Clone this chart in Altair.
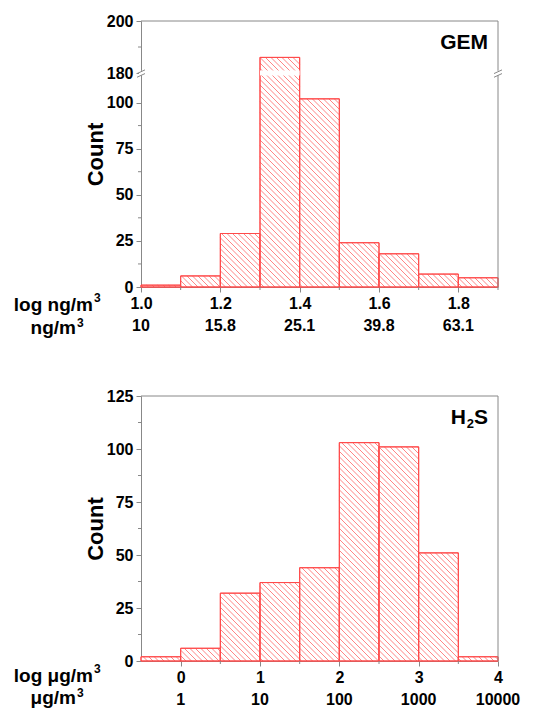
import math
import altair as alt
import pandas as pd

# ---------------- data ----------------
gem_lo = [1.0, 1.1, 1.2, 1.3, 1.4, 1.5, 1.6, 1.7, 1.8]
gem_hi = [1.1, 1.2, 1.3, 1.4, 1.5, 1.6, 1.7, 1.8, 1.9]
gem_counts = [1, 6, 29, 186, 102, 24, 18, 7, 5]
gem_ticks = [1.0, 1.2, 1.4, 1.6, 1.8]
gem_conc = ["10", "15.8", "25.1", "39.8", "63.1"]

h2s_lo = [-0.5, 0.0, 0.5, 1.0, 1.5, 2.0, 2.5, 3.0, 3.5]
h2s_hi = [0.0, 0.5, 1.0, 1.5, 2.0, 2.5, 3.0, 3.5, 4.0]
h2s_counts = [2, 6, 32, 37, 44, 103, 101, 51, 2]
h2s_ticks = [0, 1, 2, 3, 4]
h2s_conc = ["1", "10", "100", "1000", "10000"]

gem_yticks = [0, 25, 50, 75, 100, 180, 200]
gem_yminor = [12.5, 37.5, 62.5, 87.5, 190]
h2s_yticks = [0, 25, 50, 75, 100, 125]
h2s_yminor = [12.5, 37.5, 62.5, 87.5, 112.5]
gem_xminor = [1.1, 1.3, 1.5, 1.7, 1.9]
h2s_xminor = [0.5, 1.5, 2.5, 3.5]

# ---------------- style ----------------
RED = "#ff4a4a"
GREY = "#888888"
FONT = "Liberation Sans"
W = 357
H1 = 266
H2 = 265
STEP = 5.5

# broken axis for GEM: values <=116 linear, 180..200 compressed above
BREAK_D = 116.0
UPPER_RATIO = 1.41


def to_disp(v):
    if v <= BREAK_D:
        return v
    return BREAK_D + (v - 180) * UPPER_RATIO


GEM_DMAX = to_disp(200)


def hatch(los, his, tops, xdom, ydom, width, height, step=STEP):
    rows = []
    for a, b, t in zip(los, his, tops):
        px0 = (a - xdom[0]) / (xdom[1] - xdom[0]) * width
        px1 = (b - xdom[0]) / (xdom[1] - xdom[0]) * width
        pt = height - (t - ydom[0]) / (ydom[1] - ydom[0]) * height
        pb = height
        cmin = pt - px1
        cmax = pb - px0
        c = math.ceil(cmin / step) * step
        while c <= cmax:
            xa = max(px0, pt - c)
            xb = min(px1, pb - c)
            if xb - xa > 0.4:
                rows.append({
                    "x0": xdom[0] + xa / width * (xdom[1] - xdom[0]),
                    "x1": xdom[0] + xb / width * (xdom[1] - xdom[0]),
                    "y0": ydom[0] + (height - (xa + c)) / height * (ydom[1] - ydom[0]),
                    "y1": ydom[0] + (height - (xb + c)) / height * (ydom[1] - ydom[0]),
                })
            c += step
    return pd.DataFrame(rows)


def txt(one, text, x, y, size, align="center", baseline="middle"):
    return alt.Chart(one).mark_text(
        text=text, font=FONT, fontWeight="bold", fontSize=size, align=align,
        baseline=baseline, color="black").encode(x=alt.value(x), y=alt.value(y))


def panel(los, his, disp_counts, xdom, ydom, width, height, xticks, xfmt,
          yticks_disp, ylabel_expr, yminor_disp, xminor, conc, name_parts,
          unit_log, unit_lin, ylog, ylin, broken=False, bar_gap=None):
    xs = alt.Scale(domain=xdom, nice=False, zero=False)
    ys = alt.Scale(domain=ydom, nice=False, zero=False)
    bars_df = pd.DataFrame({"x0": los, "x1": his, "y0": [0] * len(los), "y1": disp_counts})
    layers = []
    layers.append(
        alt.Chart(bars_df).mark_rect(fill="white", stroke=RED, strokeWidth=1).encode(
            x=alt.X("x0:Q", scale=xs, axis=alt.Axis(
                values=xticks, format=xfmt, title=None, grid=False, tickSize=5,
                labelPadding=3, domainColor=GREY, tickColor=GREY, labelFlush=False)),
            x2="x1:Q",
            y=alt.Y("y0:Q", scale=ys, axis=alt.Axis(
                values=yticks_disp, labelExpr=ylabel_expr, title="Count", grid=False,
                tickSize=5, labelPadding=3, domainColor=GREY, tickColor=GREY,
                titlePadding=-1)),
            y2="y1:Q",
        )
    )
    hdf = hatch(los, his, disp_counts, xdom, ydom, width, height)
    layers.append(
        alt.Chart(hdf).mark_rule(color=RED, strokeWidth=0.8, opacity=0.85).encode(
            x="x0:Q", x2="x1:Q", y="y0:Q", y2="y1:Q")
    )
    layers.append(
        alt.Chart(bars_df).mark_rect(fillOpacity=0, stroke=RED, strokeWidth=1).encode(
            x="x0:Q", x2="x1:Q", y="y0:Q", y2="y1:Q")
    )
    if bar_gap is not None:
        gdf = pd.DataFrame([bar_gap])
        layers.append(
            alt.Chart(gdf).mark_rect(fill="white").encode(
                x="x0:Q", x2="x1:Q", y="y0:Q", y2="y1:Q")
        )
    one = pd.DataFrame({"a": [0]})
    layers.append(alt.Chart(one).mark_rule(color=GREY, strokeWidth=1).encode(
        x=alt.value(0), x2=alt.value(width), y=alt.value(0)))
    layers.append(alt.Chart(one).mark_rule(color=GREY, strokeWidth=1).encode(
        x=alt.value(width), y=alt.value(0), y2=alt.value(height)))
    layers.append(alt.Chart(pd.DataFrame({"y0": yminor_disp})).mark_rule(
        color=GREY, strokeWidth=1).encode(x=alt.value(-3), x2=alt.value(0), y="y0:Q"))
    layers.append(alt.Chart(pd.DataFrame({"x0": xminor})).mark_rule(
        color=GREY, strokeWidth=1).encode(y=alt.value(height), y2=alt.value(height + 3), x="x0:Q"))
    if broken:
        bw = pd.DataFrame({"y0": [BREAK_D - 1.2], "y1": [BREAK_D + 1.2]})
        for px in (0, width):
            layers.append(alt.Chart(bw).mark_rect(fill="white").encode(
                x=alt.value(px - 2), x2=alt.value(px + 2), y="y0:Q", y2="y1:Q"))
            bl = pd.DataFrame({"y0": [BREAK_D - 2.3, BREAK_D - 0.3],
                               "y1": [BREAK_D - 0.3, BREAK_D + 1.7]})
            layers.append(alt.Chart(bl).mark_rule(color=GREY, strokeWidth=1).encode(
                x=alt.value(px - 4), x2=alt.value(px + 4), y="y0:Q", y2="y1:Q"))
    for text, dx, dy, size in name_parts:
        layers.append(txt(one, text, width - 10 - dx, 22 + dy, size, align="right"))
    cdf = pd.DataFrame({"x0": xticks, "t": conc})
    layers.append(alt.Chart(cdf).mark_text(
        font=FONT, fontWeight="bold", fontSize=16, baseline="middle", color="black").encode(
        x="x0:Q", y=alt.value(height + 39), text="t:N"))
    layers.append(txt(one, unit_log, -48, height + ylog, 19, align="right"))
    layers.append(txt(one, "3", -47, height + ylog - 7, 12, align="left"))
    layers.append(txt(one, unit_lin, -65, height + ylin, 19, align="right"))
    layers.append(txt(one, "3", -64, height + ylin - 5, 12, align="left"))
    return alt.layer(*layers).properties(width=width, height=height)


gem_disp = [to_disp(v) for v in gem_counts]
gem_yticks_disp = [to_disp(v) for v in gem_yticks]
gem_yminor_disp = [to_disp(v) for v in gem_yminor]
gem_label_expr = (
    f"datum.value > {BREAK_D - 1} ? format(round(180 + (datum.value - {BREAK_D}) / {UPPER_RATIO}), 'd')"
    " : format(datum.value, 'd')"
)
gap = {"x0": 1.3, "x1": 1.4, "y0": BREAK_D - 1.3, "y1": BREAK_D + 1.4}

top = panel(gem_lo, gem_hi, gem_disp, [1.0, 1.9], [0, GEM_DMAX], W, H1,
            gem_ticks, ".1f", gem_yticks_disp, gem_label_expr, gem_yminor_disp,
            gem_xminor, gem_conc, [("GEM", 0, 0, 21)], "log ng/m", "ng/m", 18, 41,
            broken=True, bar_gap=gap)

bottom = panel(h2s_lo, h2s_hi, h2s_counts, [-0.5, 4.0], [0, 125], W, H2,
               h2s_ticks, "d", h2s_yticks, "format(datum.value, 'd')", h2s_yminor,
               h2s_xminor, h2s_conc,
               [("S", 0, 0, 21), ("2", 14, 6, 13), ("H", 22, 0, 21)],
               "log μg/m", "μg/m", 15, 37)

chart = alt.vconcat(top, bottom, spacing=50).properties(
    padding={"left": 5, "top": 5, "right": 5, "bottom": 2}
).configure_view(stroke=None).configure_axis(
    labelFont=FONT, labelFontWeight="bold", labelFontSize=16, labelColor="black",
    titleFont=FONT, titleFontWeight="bold", titleFontSize=22, titleColor="black",
)

chart.save("out.html", embed_options={"renderer": "svg", "actions": False})
